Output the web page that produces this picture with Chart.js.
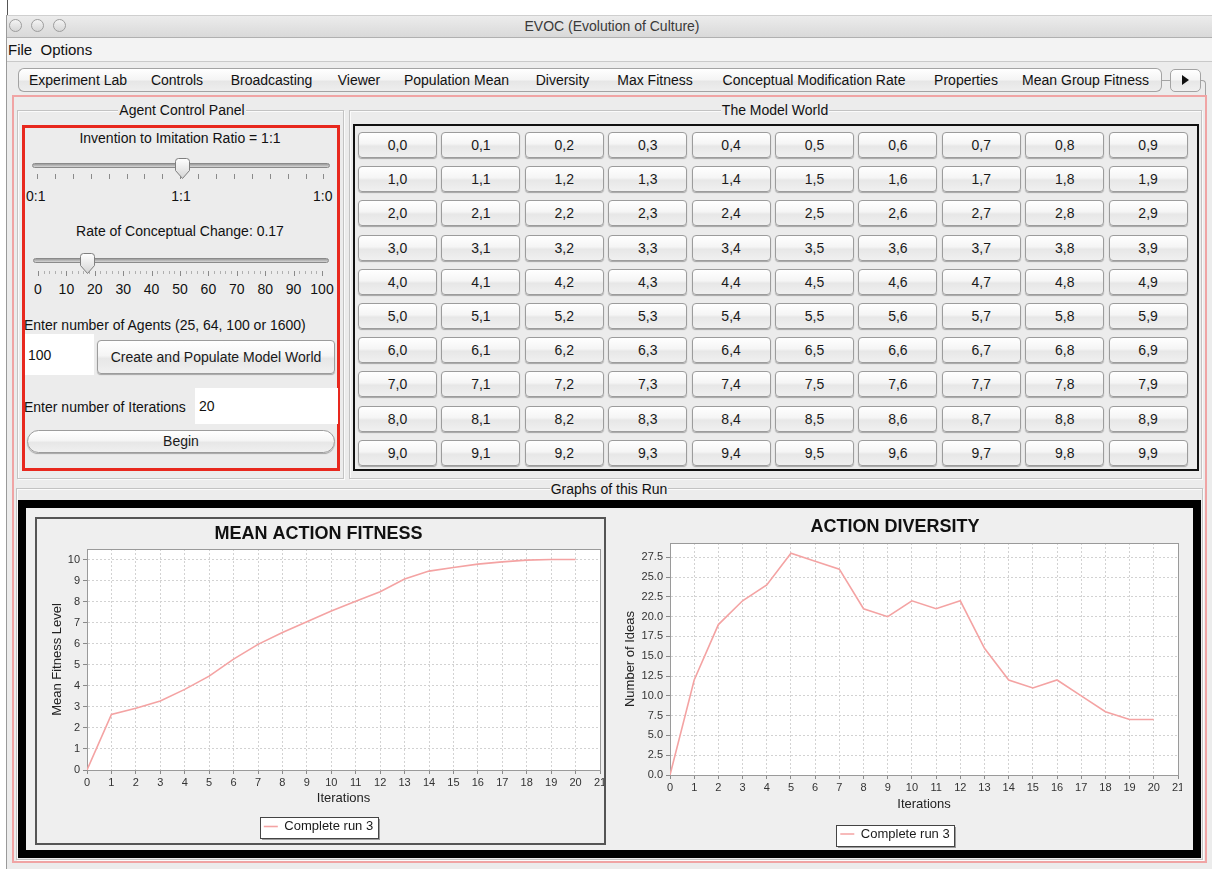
<!DOCTYPE html>
<html><head><meta charset="utf-8">
<script src="https://cdn.jsdelivr.net/npm/chart.js@4.4.1/dist/chart.umd.min.js"></script>
<style>
html,body{margin:0;padding:0;}
body{width:1212px;height:869px;background:#fff;position:relative;overflow:hidden;font-family:"Liberation Sans",Arial,sans-serif;font-size:14px;color:#111;}
.a{position:absolute;box-sizing:border-box;}
.t{position:absolute;white-space:nowrap;line-height:16px;height:16px;}
.c{text-align:center;}
.win{left:6px;top:15px;width:1206px;height:854px;background:#ececec;border-left:1px solid #9a9a9a;}
.titlebar{left:7px;top:15px;width:1205px;height:23px;background:linear-gradient(#ececec,#d9d9d9);border-bottom:1px solid #b0b0b0;border-top:1px solid #cfcfcf;}
.light{width:13px;height:13px;border-radius:50%;border:1px solid #9d9d9d;background:linear-gradient(#f4f4f4,#d6d6d6);top:19px;}
.menubar{left:7px;top:38px;width:1205px;height:24px;background:#f3f3f3;border-bottom:1px solid #c9c9c9;}
.tab{top:68px;height:24px;border-top:1px solid #a3a3a3;border-bottom:1px solid #a3a3a3;border-right:1px solid #a8a8a8;background:linear-gradient(#ffffff,#f4f4f4 50%,#e6e6e6 55%,#eeeeee);text-align:center;line-height:22px;font-size:14px;color:#111;}
.etch{border:1px solid #c3c3c3;box-shadow:inset 1px 1px 0 #fbfbfb,1px 1px 0 #fbfbfb;}
.lbl{background:#ececec;padding:0 1px;}
.btn{border:1px solid #9c9c9c;border-radius:4px;background:linear-gradient(#ffffff,#f5f5f5 45%,#e7e7e7 55%,#f0f0f0);box-shadow:0 1px 1px rgba(0,0,0,.3);text-align:center;font-size:14px;color:#1a1a1a;}
.field{background:#fff;}
.track{height:5px;border-radius:3px;border:1px solid #8a8a8a;background:linear-gradient(#9b9b9b,#d6d6d6);}
.tick{width:1px;background:#8a8a8a;}
</style>
</head>
<body>
<div class="a" style="left:7px;top:0;width:1px;height:16px;background:#555;"></div>
<div class="a win"></div>
<div class="a titlebar"></div>
<div class="a light" style="left:9px;"></div>
<div class="a light" style="left:31px;"></div>
<div class="a light" style="left:53px;"></div>
<div class="t c" style="left:412px;width:400px;top:18px;color:#3a3a3a;">EVOC (Evolution of Culture)</div>
<div class="a menubar"></div>
<div class="t" style="left:8px;top:42px;font-size:15px;">File&nbsp;&nbsp;Options</div>

<div id="tabs"></div>
<div class="a" style="left:1161px;top:80px;width:10px;height:1px;background:#a3a3a3;"></div>
<div class="a btn" style="left:1170px;top:69px;width:31px;height:23px;border-radius:5px;box-shadow:none;border-color:#a3a3a3;"></div>
<div class="a" style="left:1182px;top:75px;width:0;height:0;border-top:5px solid transparent;border-bottom:5px solid transparent;border-left:7px solid #111;"></div>
<div class="a" style="left:1200px;top:80px;width:6px;height:16px;border-top:1px solid #a3a3a3;border-right:1px solid #a3a3a3;border-top-right-radius:4px;"></div>

<!-- content panel -->
<div class="a" style="left:12px;top:95px;width:1195px;height:768px;border:2px solid #f0a4a4;"></div>

<!-- Agent control panel -->
<div class="a etch" style="left:17px;top:110px;width:327px;height:369px;"></div>
<div class="t c" style="left:82px;width:200px;top:102px;"><span class="lbl">Agent Control Panel</span></div>
<div class="a" style="left:22px;top:125px;width:318px;height:346px;border:3px solid #e8281e;"></div>
<div class="t c" style="left:30px;width:300px;top:130px;">Invention to Imitation Ratio = 1:1</div>
<div class="a track" style="left:32px;top:163px;width:298px;"></div>
<div id="ticks1"></div>
<div class="t" style="left:26px;top:188px;">0:1</div>
<div class="t c" style="left:161px;width:40px;top:188px;">1:1</div>
<div class="t" style="left:313px;top:188px;">1:0</div>
<svg class="a" style="left:174px;top:157px;" width="17" height="23" viewBox="0 0 17 23"><defs><linearGradient id="g1" x1="0" y1="0" x2="0" y2="1"><stop offset="0" stop-color="#ffffff"/><stop offset="1" stop-color="#d4d4d4"/></linearGradient></defs><path d="M1.5,4.5 Q1.5,1.5 4.5,1.5 H12.5 Q15.5,1.5 15.5,4.5 V13.5 L8.5,21.5 L1.5,13.5 Z" fill="url(#g1)" stroke="#7f7f7f" stroke-width="1"/></svg>
<div class="t c" style="left:30px;width:300px;top:223px;">Rate of Conceptual Change: 0.17</div>
<div class="a track" style="left:33px;top:258px;width:296px;"></div>
<div id="ticks2"></div>
<div id="nums2"></div>
<svg class="a" style="left:79px;top:252px;" width="17" height="23" viewBox="0 0 17 23"><defs><linearGradient id="g2" x1="0" y1="0" x2="0" y2="1"><stop offset="0" stop-color="#ffffff"/><stop offset="1" stop-color="#d4d4d4"/></linearGradient></defs><path d="M1.5,4.5 Q1.5,1.5 4.5,1.5 H12.5 Q15.5,1.5 15.5,4.5 V13.5 L8.5,21.5 L1.5,13.5 Z" fill="url(#g2)" stroke="#7f7f7f" stroke-width="1"/></svg>
<div class="t" style="left:24px;top:317px;">Enter number of Agents (25, 64, 100 or 1600)</div>
<div class="a field" style="left:25px;top:334px;width:69px;height:41px;"></div>
<div class="t" style="left:28px;top:347px;">100</div>
<div class="a btn" style="left:97px;top:340px;width:238px;height:34px;line-height:32px;">Create and Populate Model World</div>
<div class="t" style="left:24px;top:399px;">Enter number of Iterations</div>
<div class="a field" style="left:195px;top:388px;width:143px;height:36px;"></div>
<div class="t" style="left:199px;top:398px;">20</div>
<div class="a btn" style="left:27px;top:430px;width:308px;height:23px;border-radius:12px;line-height:21px;">Begin</div>

<!-- Model world -->
<div class="a etch" style="left:349px;top:110px;width:853px;height:369px;"></div>
<div class="t c" style="left:675px;width:200px;top:102px;"><span class="lbl">The Model World</span></div>
<div class="a" style="left:353px;top:124px;width:846px;height:347px;border:2px solid #111;"></div>
<div id="grid"></div>

<!-- Graphs -->
<div class="a etch" style="left:16px;top:488px;width:1187px;height:372px;"></div>
<div class="t c" style="left:509px;width:200px;top:481px;"><span class="lbl">Graphs of this Run</span></div>
<div class="a" style="left:18px;top:500px;width:1183px;height:358px;border:8px solid #000;background:#efefef;"></div>
<div class="a" style="left:35px;top:517px;width:571px;height:328px;border:2px solid #555;background:#efefef;"></div>
<div class="a" style="left:37px;top:519px;width:567px;height:324px;"><canvas id="c1" width="567" height="324"></canvas></div>
<div class="a" style="left:612px;top:508px;width:570px;height:340px;"><canvas id="c2" width="570" height="340"></canvas></div>

<script>
// ---------------- data ----------------
const iterations = [0,1,2,3,4,5,6,7,8,9,10,11,12,13,14,15,16,17,18,19,20];
const meanFitness = [0,2.64,2.93,3.28,3.83,4.46,5.27,5.97,6.53,7.04,7.55,8.02,8.47,9.07,9.45,9.62,9.78,9.89,9.97,10,10];
const actionDiversity = [0,12,19,22,24,28,27,26,21,20,22,21,22,16,12,11,12,10,8,7,7];
const seriesLabel = 'Complete run 3';
const fitnessTitle = 'MEAN ACTION FITNESS';
const diversityTitle = 'ACTION DIVERSITY';
const xAxisTitle = 'Iterations';
const fitnessAxisTitle = 'Mean Fitness Level';
const diversityAxisTitle = 'Number of Ideas';
const xRange = [0, 21];
const fitnessRange = [0, 10.5];
const fitnessStep = 1;
const diversityRange = [0, 29.3];
const diversityStep = 2.5;
const tabNames = ['Experiment Lab','Controls','Broadcasting','Viewer','Population Mean','Diversity','Max Fitness','Conceptual Modification Rate','Properties','Mean Group Fitness'];
const sliderLabels = ['0','10','20','30','40','50','60','70','80','90','100'];

// ---------------- UI chrome ----------------
const tabEdges = [18,137,217,326,392,521,604,706,922,1010,1161];
const tabsEl = document.getElementById('tabs');
tabNames.forEach((n,i)=>{
  const d=document.createElement('div');
  d.className='a tab';
  d.style.left=tabEdges[i]+'px';
  d.style.width=(tabEdges[i+1]-tabEdges[i]+1)+'px';
  if(i===0){d.style.borderLeft='1px solid #a3a3a3';d.style.borderTopLeftRadius='6px';d.style.borderBottomLeftRadius='6px';}
  if(i===tabNames.length-1){d.style.borderTopRightRadius='6px';d.style.borderBottomRightRadius='6px';d.style.borderRight='1px solid #a3a3a3';}
  d.textContent=n;
  tabsEl.appendChild(d);
});
const t1=document.getElementById('ticks1');
for(let i=0;i<=16;i++){
  const d=document.createElement('div');d.className='a tick';
  d.style.left=(37+i*17.9)+'px';d.style.top='174px';d.style.height='5px';t1.appendChild(d);
}
const t2=document.getElementById('ticks2');
for(let i=0;i<=50;i++){
  const d=document.createElement('div');d.className='a tick';
  d.style.left=(38+i*5.68)+'px';d.style.top='271px';d.style.height=(i%5===0?'5px':'3px');
  d.style.background=i%5===0?'#8a8a8a':'#b0b0b0';t2.appendChild(d);
}
const n2=document.getElementById('nums2');
sliderLabels.forEach((s,i)=>{
  const d=document.createElement('div');d.className='t c';
  d.style.left=(38+i*28.4-20)+'px';d.style.width='40px';d.style.top='281px';d.textContent=s;n2.appendChild(d);
});
const g=document.getElementById('grid');
for(let r=0;r<10;r++)for(let c=0;c<10;c++){
  const d=document.createElement('div');d.className='a btn';
  d.style.left=(358+c*83.4)+'px';d.style.top=(132+r*34.2)+'px';
  d.style.width='79px';d.style.height='26px';d.style.lineHeight='24px';
  d.textContent=r+','+c;g.appendChild(d);
}

// ---------------- charts ----------------
Chart.defaults.font.family = '"Liberation Sans", Arial, sans-serif';
const jfree = {
  id:'jfree',
  beforeDraw(chart){
    const {ctx, chartArea:a} = chart;
    ctx.save();
    ctx.fillStyle='#ffffff';
    ctx.fillRect(a.left,a.top,a.right-a.left,a.bottom-a.top);
    const lg=chart.legend;
    if(lg && lg.legendHitBoxes && lg.legendHitBoxes.length){
      let x0=Infinity,x1=-Infinity,y0=Infinity,y1=-Infinity;
      lg.legendHitBoxes.forEach(h=>{x0=Math.min(x0,h.left);x1=Math.max(x1,h.left+h.width);y0=Math.min(y0,h.top);y1=Math.max(y1,h.top+h.height);});
      const bx=Math.round(x0-4)+0.5, by=Math.round(y0-3)+0.5, bw=Math.round(x1-x0+9), bh=Math.round(y1-y0+8);
      ctx.fillStyle='rgba(0,0,0,0.35)';
      ctx.fillRect(bx+1.5,by+1.5,bw,bh);
      ctx.fillStyle='#ffffff';
      ctx.fillRect(bx,by,bw,bh);
      ctx.strokeStyle='#444';ctx.lineWidth=1;
      ctx.strokeRect(bx,by,bw,bh);
    }
    ctx.restore();
  },
  beforeDatasetsDraw(chart){
    const {ctx, chartArea:a} = chart;
    ctx.save();
    ctx.strokeStyle='#9a9a9a';ctx.lineWidth=1;
    ctx.strokeRect(Math.round(a.left)+0.5,Math.round(a.top)+0.5,Math.round(a.right-a.left),Math.round(a.bottom-a.top));
    ctx.restore();
  }
};

function makeChart(id, title, values, yRange, yStep, yTitle, fmt, L){
  return new Chart(document.getElementById(id), {
    type:'line',
    data:{datasets:[{
      label:seriesLabel,
      data:iterations.map((x,i)=>({x:x,y:values[i]})),
      borderColor:'#f4a3a3', backgroundColor:'#f4a3a3', borderWidth:1.6,
      pointRadius:0, pointHoverRadius:0, tension:0, fill:false
    }]},
    options:{
      animation:false, responsive:false, maintainAspectRatio:false,
      layout:{padding:{left:0,right:L.right,top:0,bottom:0}},
      plugins:{
        title:{display:true,text:title,color:'#111',font:{size:18,weight:'bold'},padding:{top:L.tTop,bottom:L.tBot}},
        legend:{position:'bottom',maxHeight:L.legH,labels:{usePointStyle:true,pointStyle:'line',pointStyleWidth:14,color:'#1a1a1a',font:{size:13},padding:5}},
        tooltip:{enabled:false}
      },
      scales:{
        x:{type:'linear',min:xRange[0],max:xRange[1],
          ticks:{stepSize:1,color:'#333',font:{size:11},padding:2,maxRotation:0,autoSkip:false},
          grid:{color:'#d2d2d2',tickColor:'#8a8a8a',tickLength:4,lineWidth:1},
          border:{color:'#8a8a8a',dash:[2,2]},
          title:{display:true,text:xAxisTitle,color:'#222',font:{size:13},padding:{top:0,bottom:L.xtBot}},
          afterFit:s=>{s.height=L.xH;s.paddingLeft=0;s.paddingRight=0;}
        },
        y:{type:'linear',min:yRange[0],max:yRange[1],
          ticks:{stepSize:yStep,includeBounds:false,color:'#333',font:{size:11},padding:3,callback:fmt},
          grid:{color:'#d2d2d2',tickColor:'#8a8a8a',tickLength:4,lineWidth:1},
          border:{color:'#8a8a8a',dash:[2,2]},
          title:{display:true,text:yTitle,color:'#222',font:{size:13},padding:{top:L.ytTop,bottom:0}},
          afterFit:s=>{s.width=L.yW;s.paddingTop=0;s.paddingBottom=0;}
        }
      }
    },
    plugins:[jfree]
  });
}

makeChart('c1', fitnessTitle, meanFitness, fitnessRange, fitnessStep, fitnessAxisTitle,
  v=>String(v),
  {right:4,tTop:4,tBot:4.4,legH:28,xtBot:9.2,xH:45,ytTop:12.2,yW:50});
makeChart('c2', diversityTitle, actionDiversity, diversityRange, diversityStep, diversityAxisTitle,
  v=>Number(v).toFixed(1),
  {right:4,tTop:8.2,tBot:5.2,legH:25.5,xtBot:10.7,xH:47.5,ytTop:10.2,yW:58});
</script>
</body></html>
